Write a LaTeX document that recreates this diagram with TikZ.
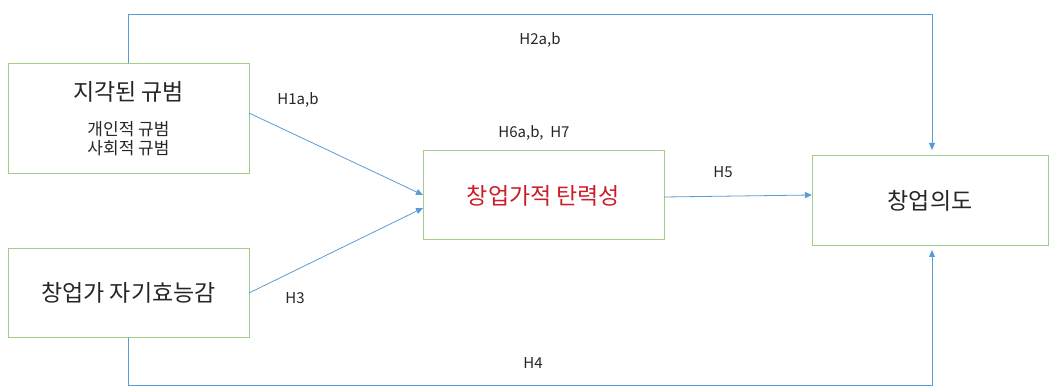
\documentclass[tikz,border=0pt]{standalone}
\usepackage{fontspec}
\setmainfont{Noto Sans CJK KR}
\usetikzlibrary{arrows.meta}
\definecolor{boxgreen}{RGB}{160,205,135}
\definecolor{linkblue}{RGB}{91,155,213}
\definecolor{hred}{RGB}{204,30,40}
\definecolor{txt}{RGB}{38,38,38}
\tikzset{
  box/.style={draw=boxgreen, line width=1pt, inner sep=0pt, text=txt, align=center},
  big/.style={font=\fontsize{23}{27}\selectfont},
  link/.style={draw=linkblue, line width=0.8pt, -{Triangle[length=7pt,width=6pt]}},
  hlab/.style={text=txt, font=\fontsize{15}{18}\selectfont, inner sep=0pt},
}
\begin{document}
\begin{tikzpicture}[x=1pt,y=-1pt]
\useasboundingbox (0,0) rectangle (1049,387);
\node[box, minimum width=241pt, minimum height=110pt, font=\fontsize{17}{19}\selectfont] (A) at (128.5,119)
  {{\fontsize{23}{27}\selectfont 지각된 규범}\\[16pt]개인적 규범\\사회적 규범};
\node[box, big, minimum width=241pt, minimum height=88pt] (B) at (128.5,293) {창업가 자기효능감};
\node[box, big, minimum width=241pt, minimum height=89pt, text=hred] (C) at (543.5,195.5) {창업가적 탄력성};
\node[box, big, minimum width=236pt, minimum height=90pt] (D) at (930,201) {창업의도};

\coordinate (a1) at (249,113);
\coordinate (c1) at (423,195);
\coordinate (b1) at (249,293);
\coordinate (c2) at (423,208);
\coordinate (c3) at (664,197);
\coordinate (d1) at (812,195);
\coordinate (t1) at (128,14);
\coordinate (t2) at (932,14);
\coordinate (dn) at (932,156);
\coordinate (u1) at (128,385.5);
\coordinate (u2) at (932,385.5);
\coordinate (ds) at (932,246);

\draw[link] (a1) -- (c1);
\draw[link] (b1) -- (c2);
\draw[link] (c3) -- (d1);
\draw[link, shorten >=6pt] (A.north -| t1) -- (t1) -- (t2) -- (dn);
\draw[link, shorten >=4pt] (B.south -| u1) -- (u1) -- (u2) -- (ds);

\node[hlab] (L2) at (540,40) {H2a,b};
\node[hlab] (L1) at (298,100) {H1a,b};
\node[hlab] (L6) at (534,133) {H6a,b, ~H7};
\node[hlab] (L5) at (723,172) {H5};
\node[hlab] (L3) at (295,298) {H3};
\node[hlab] (L4) at (533,363) {H4};
\end{tikzpicture}
\end{document}
